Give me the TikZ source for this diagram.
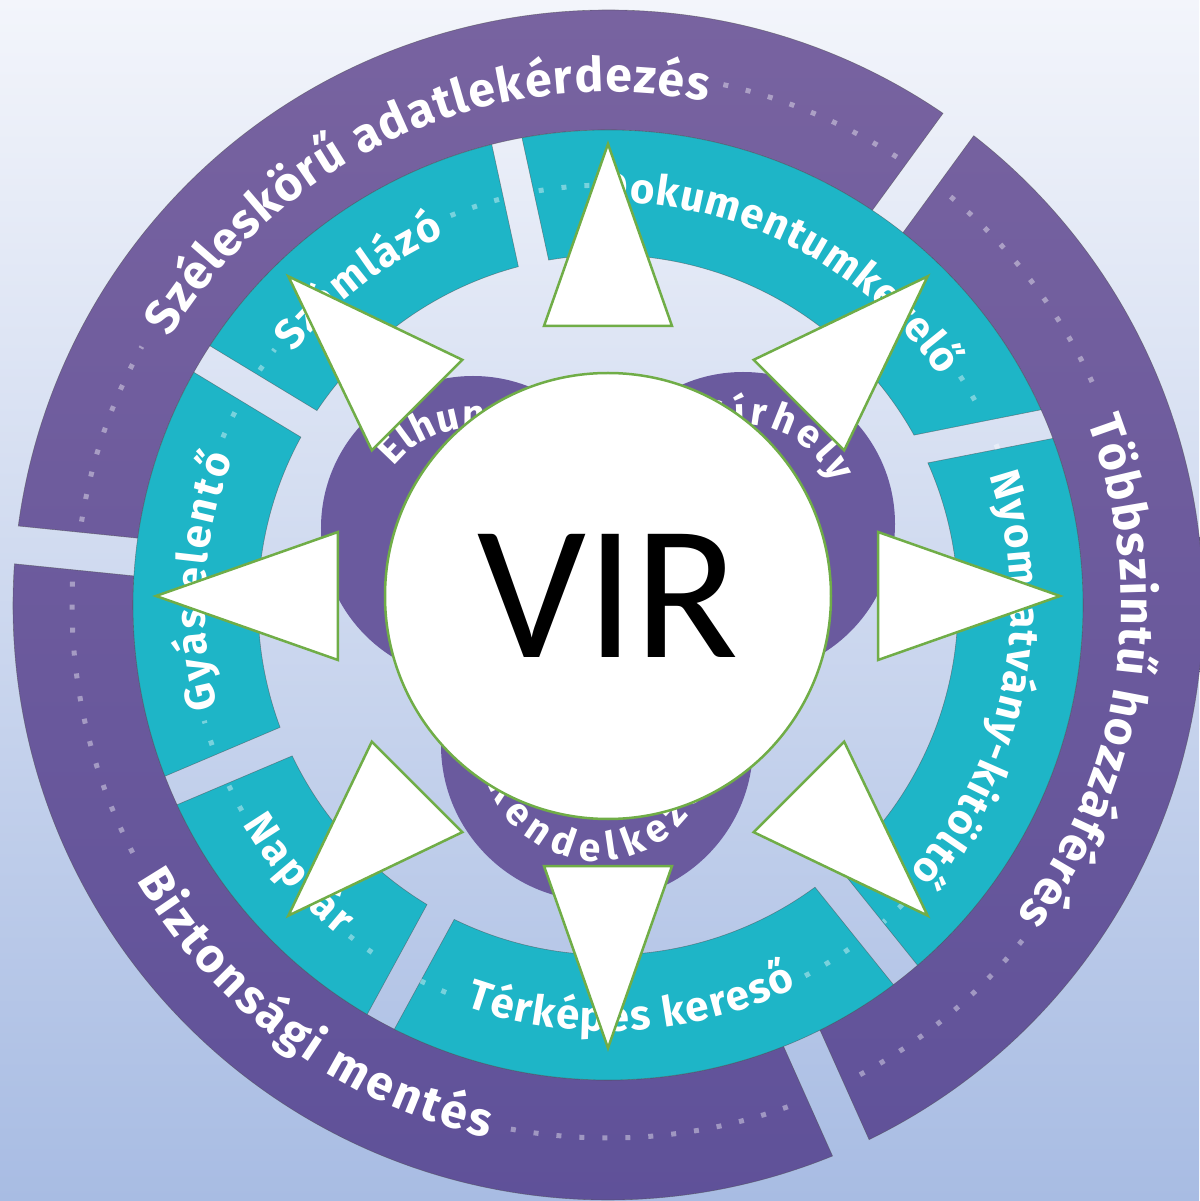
\documentclass[tikz,border=0pt]{standalone}
\usepackage{fontspec}
\setmainfont{Fira Sans}
\newfontfamily\virfont{Carlito}
\usetikzlibrary{decorations.text,calc}

\definecolor{bgtop}{HTML}{F3F5FB}
\definecolor{bgbot}{HTML}{A8BCE3}
\definecolor{ringtop}{HTML}{7863A0}
\definecolor{ringbot}{HTML}{5F5199}
\definecolor{blobpurple}{HTML}{6A5A9E}
\definecolor{segteal}{HTML}{1EB5C7}
\definecolor{arrowgreen}{HTML}{70AD47}

\newcommand{\ringseg}[6]{(#3:#2) arc[start angle=#3,end angle=#5,radius=#2] -- (#6:#1) arc[start angle=#6,end angle=#4,radius=#1] -- cycle}
\newcommand{\arclabel}[6]{%
  \path[decorate,decoration={text along path,text align=fit to path,text color=white,
    text={|\fontsize{#5}{#5}\selectfont\bfseries|#6}}]
    ($(#1)+(#3:#2)$) arc[start angle=#3,end angle=#4,radius=#2];}

\begin{document}
\begin{tikzpicture}[x=1pt,y=1pt]
        \tikzstyle{tealseg}=[fill=segteal,draw=black!70,draw opacity=0.5,line width=0.6pt]
        \tikzstyle{segline}=[draw=black!70,draw opacity=0.5,line width=0.6pt]
        \tikzstyle{dotline}=[line width=5pt,dash pattern=on 5pt off 18pt,white,opacity=0.4]
        \tikzstyle{blob}=[circle,fill=blobpurple,inner sep=0pt]
        \tikzstyle{virnode}=[circle,fill=white,draw=arrowgreen,line width=2.5pt,inner sep=0pt,minimum size=446pt,font=\virfont\fontsize{192}{192}\selectfont]
        \tikzstyle{arrowtri}=[fill=white,draw=arrowgreen,line width=2.5pt,line join=miter]

        \useasboundingbox (-608,-596) rectangle (591,605);
        \shade[top color=bgtop,bottom color=bgbot] (-608,-596) rectangle (591,605);
        \coordinate (C) at (0,0);

        \begin{scope}
            \clip \ringseg{475}{595}{-63.97}{-63.49}{52.07}{51.61} \ringseg{475}{595}{55.73}{56.19}{172.37}{171.91} \ringseg{475}{595}{176.03}{176.49}{292.17}{291.69};
            \shade[top color=ringtop,bottom color=ringbot] (-600,-600) rectangle (600,600);
        \end{scope}
        \path[segline] \ringseg{475}{595}{-63.97}{-63.49}{52.07}{51.61} \ringseg{475}{595}{55.73}{56.19}{172.37}{171.91} \ringseg{475}{595}{176.03}{176.49}{292.17}{291.69};

        \path[tealseg] \ringseg{350}{475}{-49.33}{-48.66}{20.53}{23.96};
        \path[tealseg] \ringseg{350}{475}{24.27}{29.04}{100.43}{99.76};
        \path[tealseg] \ringseg{350}{475}{104.17}{104.84}{146.93}{146.26};
        \path[tealseg] \ringseg{350}{475}{150.67}{151.34}{201.13}{200.46};
        \path[tealseg] \ringseg{350}{475}{204.87}{205.54}{239.53}{238.86};
        \path[tealseg] \ringseg{350}{475}{243.27}{243.94}{306.93}{306.26};

        \draw[dotline] (171:533) arc[start angle=171,end angle=151,radius=533];
        \draw[dotline] (77.5:533) arc[start angle=77.5,end angle=56.5,radius=533];
        \draw[dotline] (50:533) arc[start angle=50,end angle=23,radius=533];
        \draw[dotline] (-39:533) arc[start angle=-39,end angle=-63,radius=533];
        \draw[dotline] (177.5:536) arc[start angle=177.5,end angle=208,radius=536];
        \draw[dotline] (259.5:533) arc[start angle=259.5,end angle=290,radius=533];

        \draw[dotline] (146:420) arc[start angle=146,end angle=142.5,radius=420];
        \draw[dotline] (112:420) arc[start angle=112,end angle=104.5,radius=420];
        \draw[dotline] (99.5:420) arc[start angle=99.5,end angle=92.5,radius=420];
        \draw[dotline] (33:420) arc[start angle=33,end angle=27.5,radius=420];
        \draw[dotline] (22.5:420) arc[start angle=22.5,end angle=20,radius=420];
        \draw[dotline] (-45.5:420) arc[start angle=-45.5,end angle=-49,radius=420];
        \draw[dotline] (199.5:420) arc[start angle=199.5,end angle=196,radius=420];
        \draw[dotline] (156.5:420) arc[start angle=156.5,end angle=152,radius=420];
        \draw[dotline] (205.5:420) arc[start angle=205.5,end angle=209.5,radius=420];
        \draw[dotline] (232:420) arc[start angle=232,end angle=238,radius=420];
        \draw[dotline] (243.5:420) arc[start angle=243.5,end angle=249.5,radius=420];
        \draw[dotline] (298:420) arc[start angle=298,end angle=305.5,radius=420];

        \arclabel{C}{513}{148.6}{78.9}{48}{Széleskörű adatlekérdezés}
        \arclabel{C}{513}{20.9}{-37.2}{48}{Többszintű hozzáférés}
        \arclabel{C}{546}{210.3}{257.3}{48}{Biztonsági mentés}

        \arclabel{C}{403}{141.3}{113.9}{42}{Számlázó}
        \arclabel{C}{403}{91}{34.5}{42}{Dokumentumkezelő}
        \arclabel{C}{403}{18.7}{-41.5}{42}{Nyomtatvány-kitöltő}
        \arclabel{C}{403}{194.7}{158.6}{42}{Gyásjelentő}
        \arclabel{C}{426}{211}{231}{42}{Naptár}
        \arclabel{C}{426}{250.5}{296.3}{42}{Térképes kereső}

        \node[blob,minimum size=304pt] (elhunyt) at (-135,77) {};
        \node[blob,minimum size=304pt] (sirhely) at (135,81) {};
        \node[blob,minimum size=312pt] (rendelkezo) at (-11,-140) {};

        \arclabel{elhunyt}{100}{142}{62}{39}{Elhunyt}
        \arclabel{sirhely}{99}{110}{24}{39}{Sírhely}
        \arclabel{rendelkezo}{116}{200}{338}{39}{Rendelkező}

        \node[virnode] (vir) at (0,9) {VIR};

        \foreach \a in {0,45,...,315}
            \draw[arrowtri] ($(vir)+(\a:270)+(\a+90:64)$) -- ($(vir)+(\a:452)$) -- ($(vir)+(\a:270)+(\a-90:64)$) -- cycle;
\end{tikzpicture}
\end{document}
